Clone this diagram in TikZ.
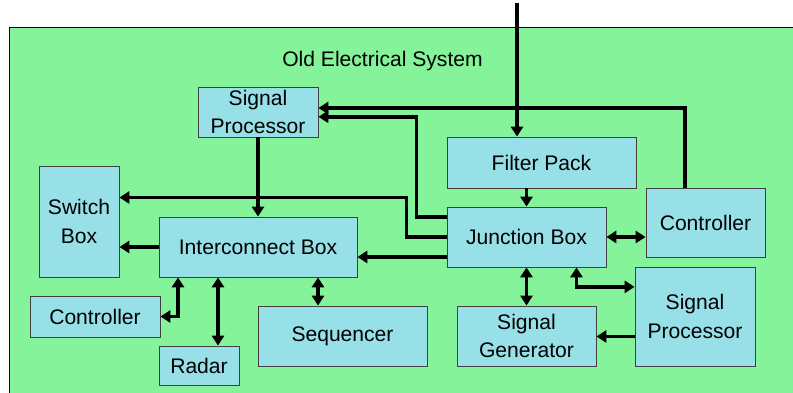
\documentclass[tikz,border=0pt]{standalone}
\usepackage{fontspec}
\setmainfont{Liberation Sans}
\usepackage{tikz}
\usetikzlibrary{arrows.meta}
\definecolor{bggreen}{RGB}{132,243,154}
\definecolor{boxcyan}{RGB}{152,224,232}
\tikzstyle{blk} = [draw=black!75,line width=0.6pt,fill=boxcyan,inner sep=0mm,align=center,font=\fontsize{15}{20}\selectfont]
\tikzstyle{wire} = [line width=2.7pt,-{Triangle[length=7pt,width=8.5pt]}]
\tikzstyle{wire2} = [line width=2.7pt,{Triangle[length=7pt,width=8.5pt]}-{Triangle[length=7pt,width=8.5pt]}]

\begin{document}
\begin{tikzpicture}[scale=1]
\useasboundingbox (0,0) rectangle (19.825,9.825);
\fill[bggreen] (0.225,0) rectangle (19.9,9.15);
\draw[thin] (0.225,0) -- (0.225,9.15) -- (19.825,9.15);
\draw(9.5625,8.3) node (title) {\fontsize{15}{18}\selectfont Old Electrical System};

\draw(6.45,7.025) node[blk,minimum width=3cm,minimum height=1.25cm] (sp1) {Signal\\Processor};
\draw(13.5375,5.7625) node[blk,minimum width=4.725cm,minimum height=1.275cm] (fp) {Filter Pack};
\draw(17.6375,4.2625) node[blk,minimum width=2.975cm,minimum height=1.725cm] (ctr2) {Controller};
\draw(13.1625,3.9) node[blk,minimum width=3.975cm,minimum height=1.5cm] (jb) {Junction Box};
\draw(17.375,1.9125) node[blk,minimum width=3cm,minimum height=2.475cm] (sp2) {Signal\\Processor};
\draw(13.1625,1.425) node[blk,minimum width=3.475cm,minimum height=1.5cm] (sg) {Signal\\Generator};

\draw(1.975,4.2875) node[blk,minimum width=2cm,minimum height=2.775cm] (sw) {Switch\\Box};
\draw(6.45,3.65) node[blk,minimum width=4.95cm,minimum height=1.5cm] (ic) {Interconnect Box};
\draw(2.375,1.9125) node[blk,minimum width=3.25cm,minimum height=1.025cm] (ctr1) {Controller};
\draw(4.975,0.6875) node[blk,minimum width=2cm,minimum height=0.975cm] (rad) {Radar};
\draw(8.5625,1.425) node[blk,minimum width=4.225cm,minimum height=1.5cm] (seq) {Sequencer};

\coordinate (src) at (12.925,9.75);
\draw[wire] (src) -- (src |- fp.north);
\draw[wire] (jb.north |- fp.south) -- (jb.north);
\draw[wire] ([xshift=-5.125mm]ctr2.north) |- ([yshift=1mm]sp1.east);
\draw[wire] ([yshift=5mm]jb.west) -- ++(-0.75,0) |- ([yshift=-1.2mm]sp1.east);
\draw[wire] (jb.west) -- ++(-1,0) |- ([yshift=6mm]sw.east);
\draw[wire] ([yshift=-5mm]jb.west) -- ([yshift=-5mm]jb.west -| ic.east);
\draw[wire] (sp1.south) -- (ic.north);
\draw[wire] (ic.west) -- (ic.west -| sw.east);

\draw[wire2] ([xshift=-2cm]ic.south) |- (ctr1.east);
\draw[wire2] ([xshift=-1cm]ic.south) -- ([xshift=-1cm]ic.south |- rad.north);
\draw[wire2] ([xshift=1.5cm]ic.south) -- ([xshift=1.5cm]ic.south |- seq.north);
\draw[wire2] (jb.east) -- (jb.east -| ctr2.west);
\draw[wire2] (jb.south) -- (sg.north);
\draw[wire2] ([xshift=1.25cm]jb.south) |- ([yshift=7.4mm]sp2.west);
\draw[wire] ([yshift=-5mm]sp2.west) -- ([yshift=-5mm]sp2.west -| sg.east);

\end{tikzpicture}
\end{document}
